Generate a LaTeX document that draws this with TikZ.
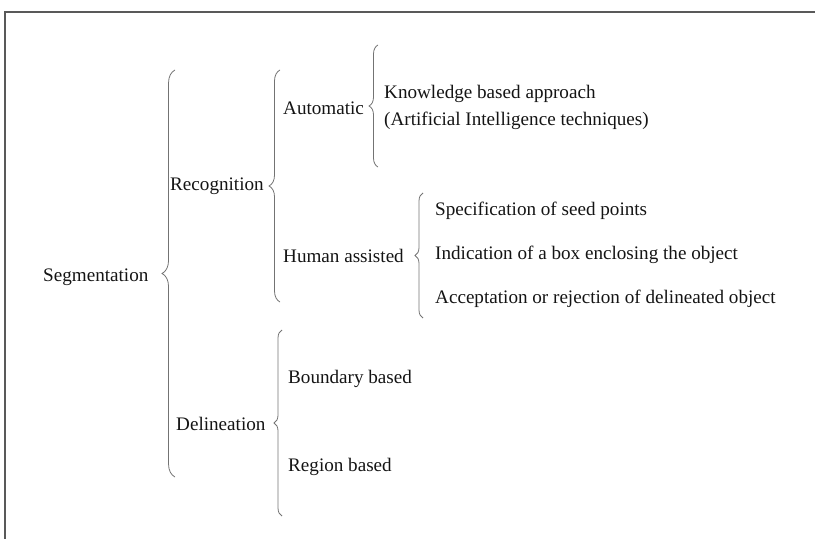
\documentclass[tikz,border=0pt]{standalone}
\usepackage{fontspec}
\setmainfont{Liberation Serif}
\usetikzlibrary{decorations.pathreplacing}

\tikzset{
  lbl/.style={anchor=west,inner sep=0pt,text=black!92,font=\fontsize{19.2}{27}\selectfont},
  curly/.style={draw=black!55,line width=0.8pt,decorate,decoration={brace,amplitude=#1}},
  frame/.style={draw=black!65,line width=1.3pt}
}

\begin{document}
\begin{tikzpicture}[x=1bp,y=-1bp]
\useasboundingbox (0,0) rectangle (815,539);
\draw[frame] (5,539) -- (5,12) -- (815,12) ;

\node[lbl] (seg) at (43,277) {Segmentation} ;
\node[lbl] (rec) at (170,186) {Recognition} ;
\node[lbl] (del) at (176,424) {Delineation} ;
\node[lbl] (aut) at (283,108) {Automatic} ;
\node[lbl] (hum) at (283,256) {Human assisted} ;
\node[lbl,align=left] (kno) at (384,107) {Knowledge based approach\\(Artificial Intelligence techniques)} ;
\node[lbl] (spe) at (435,211) {Specification of seed points} ;
\node[lbl] (ind) at (435,255) {Indication of a box enclosing the object} ;
\node[lbl] (acc) at (435,299) {Acceptation or rejection of delineated object} ;
\node[lbl] (bou) at (288,379) {Boundary based} ;
\node[lbl] (reg) at (288,467) {Region based} ;

% brace ends
\coordinate (b1t) at (175,70) ;
\coordinate (b1b) at (175,477) ;
\coordinate (b2t) at (280,70) ;
\coordinate (b2b) at (280,302) ;
\coordinate (b3t) at (378,45) ;
\coordinate (b3b) at (378,167) ;
\coordinate (b4t) at (423,193) ;
\coordinate (b4b) at (423,318) ;
\coordinate (b5t) at (282,330) ;
\coordinate (b5b) at (282,516) ;

\draw[curly=13] (b1b) -- (b1t) ;
\draw[curly=11] (b2b) -- (b2t) ;
\draw[curly=9] (b3b) -- (b3t) ;
\draw[curly=8] (b4b) -- (b4t) ;
\draw[curly=8] (b5b) -- (b5t) ;
\end{tikzpicture}
\end{document}
